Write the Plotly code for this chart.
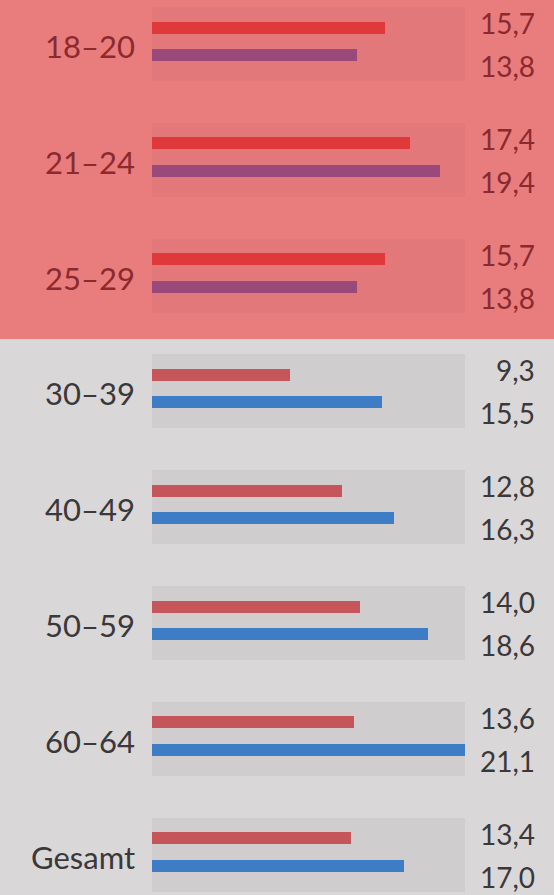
import plotly.graph_objects as go

categories = ["18–20", "21–24", "25–29", "30–39", "40–49", "50–59", "60–64", "Gesamt"]
series_a = [15.7, 17.4, 15.7, 9.3, 12.8, 14.0, 13.6, 13.4]
series_b = [13.8, 19.4, 13.8, 15.5, 16.3, 18.6, 21.1, 17.0]
labels_a = ["15,7", "17,4", "15,7", "9,3", "12,8", "14,0", "13,6", "13,4"]
labels_b = ["13,8", "19,4", "13,8", "15,5", "16,3", "18,6", "21,1", "17,0"]
highlighted = [True, True, True, False, False, False, False, False]

W, H = 554, 895
x0_px, px_per_unit = 152, 14.85
g0_px, g_step = 44, 115.8

xmin = -x0_px / px_per_unit
xmax = (W - x0_px) / px_per_unit
ymin = -g0_px / g_step
ymax = (H - g0_px) / g_step

n = len(categories)
idx = list(range(n))
vmax = max(series_a + series_b)

off_a = -16.5 / g_step
off_b = 11 / g_step
bar_w = 12 / g_step
box_w = 74 / g_step

col_a = ["#E0393C" if h else "#C6555A" for h in highlighted]
col_b = ["#9A4A7A" if h else "#3E7DC6" for h in highlighted]
col_box = ["#E2787A" if h else "#D0CDCE" for h in highlighted]
col_txt = ["#8A2A2E" if h else "#3A3838" for h in highlighted]

fig = go.Figure()
fig.add_trace(go.Bar(x=[vmax] * n, y=idx, orientation="h",
                     width=box_w, marker=dict(color=col_box, line=dict(width=0)),
                     hoverinfo="skip", showlegend=False))
fig.add_trace(go.Bar(x=series_a, y=[i + off_a for i in idx], orientation="h",
                     width=bar_w, marker=dict(color=col_a, line=dict(width=0)),
                     showlegend=False))
fig.add_trace(go.Bar(x=series_b, y=[i + off_b for i in idx], orientation="h",
                     width=bar_w, marker=dict(color=col_b, line=dict(width=0)),
                     showlegend=False))

# salmon background for the highlighted block
split_y = (339 - g0_px) / g_step
fig.add_shape(type="rect", xref="paper", yref="y", x0=0, x1=1, y0=ymin, y1=split_y,
              fillcolor="#E97C7D", line=dict(width=0), layer="below")

font_family = "Lato, 'Noto Sans', sans-serif"
cat_x = (137 - x0_px) / px_per_unit
val_x = (537 - x0_px) / px_per_unit
for i in idx:
    fig.add_annotation(x=cat_x, y=i + 2 / g_step, xref="x", yref="y", text=categories[i],
                       xanchor="right", yanchor="middle", showarrow=False,
                       font=dict(family=font_family, size=31, color=col_txt[i]))
    fig.add_annotation(x=val_x, y=i - 21 / g_step, xref="x", yref="y",
                       text=labels_a[i], xanchor="right", yanchor="middle", showarrow=False,
                       font=dict(family=font_family, size=28, color=col_txt[i]))
    fig.add_annotation(x=val_x, y=i + 22 / g_step, xref="x", yref="y",
                       text=labels_b[i], xanchor="right", yanchor="middle", showarrow=False,
                       font=dict(family=font_family, size=28, color=col_txt[i]))

fig.update_layout(
    width=W, height=H, margin=dict(l=0, r=0, t=0, b=0),
    paper_bgcolor="#DAD7D8", plot_bgcolor="rgba(0,0,0,0)",
    barmode="overlay", bargap=0,
    xaxis=dict(range=[xmin, xmax], visible=False, fixedrange=True),
    yaxis=dict(range=[ymax, ymin], visible=False, fixedrange=True),
)

fig.write_html("out.html")
